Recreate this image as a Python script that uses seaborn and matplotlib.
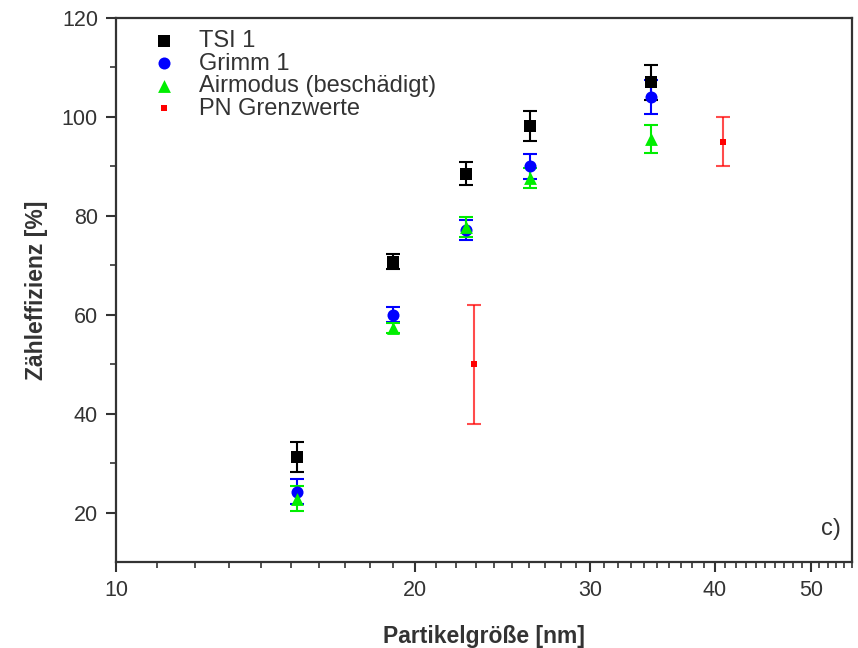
import numpy as np
import pandas as pd
import matplotlib
matplotlib.use("Agg")
import matplotlib.pyplot as plt
import seaborn as sns
from matplotlib.ticker import FixedLocator, FixedFormatter, NullFormatter

# Particle size [nm]
sizes_nm = [15.2, 19.0, 22.5, 26.1, 34.5]

tsi_eff = [31.3, 70.7, 88.5, 98.1, 107.0]
tsi_err = [3.0, 1.5, 2.3, 3.0, 3.5]

grimm_eff = [24.2, 60.0, 77.2, 90.0, 104.0]
grimm_err = [2.5, 1.5, 2.0, 2.5, 3.5]

airmodus_eff = [22.8, 57.3, 77.8, 87.7, 95.6]
airmodus_err = [2.5, 1.0, 2.0, 2.0, 2.8]

pn_sizes_nm = [22.9, 40.8]
pn_eff = [50.0, 95.0]
pn_err = [12.0, 5.0]

labels = ["TSI 1", "Grimm 1", "Airmodus (beschädigt)", "PN Grenzwerte"]
colors = ["#000000", "#0000ff", "#00ee00", "#ff0000"]
markers = ["s", "o", "^", "s"]
marker_sizes = [75, 75, 85, 22]

frames = []
for lab, xs, ys, es in zip(
    labels,
    [sizes_nm, sizes_nm, sizes_nm, pn_sizes_nm],
    [tsi_eff, grimm_eff, airmodus_eff, pn_eff],
    [tsi_err, grimm_err, airmodus_err, pn_err],
):
    frames.append(pd.DataFrame({"size": xs, "eff": ys, "err": es, "device": lab}))
df = pd.concat(frames, ignore_index=True)

sns.set_style("ticks")
plt.rcParams["font.family"] = ["Liberation Sans", "DejaVu Sans"]

fig = plt.figure(figsize=(8.58, 6.48), dpi=100)
ax = fig.add_axes([0.1352, 0.1327, 0.8578, 0.8395])

for lab, col, mk, ms in zip(labels, colors, markers, marker_sizes):
    sub = df[df["device"] == lab]
    ax.errorbar(sub["size"], sub["eff"], yerr=sub["err"], fmt="none",
                ecolor=col, elinewidth=1.5, capsize=5, capthick=1.5,
                alpha=0.7 if lab == "PN Grenzwerte" else 1.0, zorder=2)
    sns.scatterplot(data=sub, x="size", y="eff", color=col, marker=mk,
                    s=ms, linewidth=0, edgecolor=col, label=lab, ax=ax,
                    zorder=3)

ax.set_xscale("log")
ax.set_xlim(10, 55)
ax.set_ylim(10, 120)

major_x = [10, 20, 30, 40, 50]
minor_x = [v for v in range(11, 56) if v not in major_x]
ax.xaxis.set_major_locator(FixedLocator(major_x))
ax.xaxis.set_major_formatter(FixedFormatter([str(v) for v in major_x]))
ax.xaxis.set_minor_locator(FixedLocator(minor_x))
ax.xaxis.set_minor_formatter(NullFormatter())

ax.yaxis.set_major_locator(FixedLocator([20, 40, 60, 80, 100, 120]))
ax.yaxis.set_minor_locator(FixedLocator([30, 50, 70, 90, 110]))

for s in ax.spines.values():
    s.set_color("#333333")
    s.set_linewidth(1.6)
ax.tick_params(axis="both", which="major", direction="out", length=7,
               width=1.5, color="#333333", labelsize=15.5, labelcolor="#333333")
ax.tick_params(axis="x", which="major", pad=6)
ax.tick_params(axis="y", which="major", pad=6)
ax.tick_params(axis="both", which="minor", direction="out", length=4,
               width=1.2, color="#333333")

ax.set_xlabel("Partikelgröße [nm]", fontsize=16.5, fontweight="bold",
              color="#333333", labelpad=17)
ax.set_ylabel("Zähleffizienz [%]", fontsize=16.5, fontweight="bold",
              color="#333333", labelpad=10)

leg = ax.legend(loc="upper left", bbox_to_anchor=(0.017, 1.008), frameon=False,
                fontsize=17, handletextpad=0.7, labelspacing=0.02,
                borderaxespad=0.3, handlelength=1.6)
for t in leg.get_texts():
    t.set_color("#333333")

ax.text(0.985, 0.04, "c)", transform=ax.transAxes, ha="right", va="bottom",
        fontsize=17, color="#333333")

fig.savefig("out.png", dpi=100)
